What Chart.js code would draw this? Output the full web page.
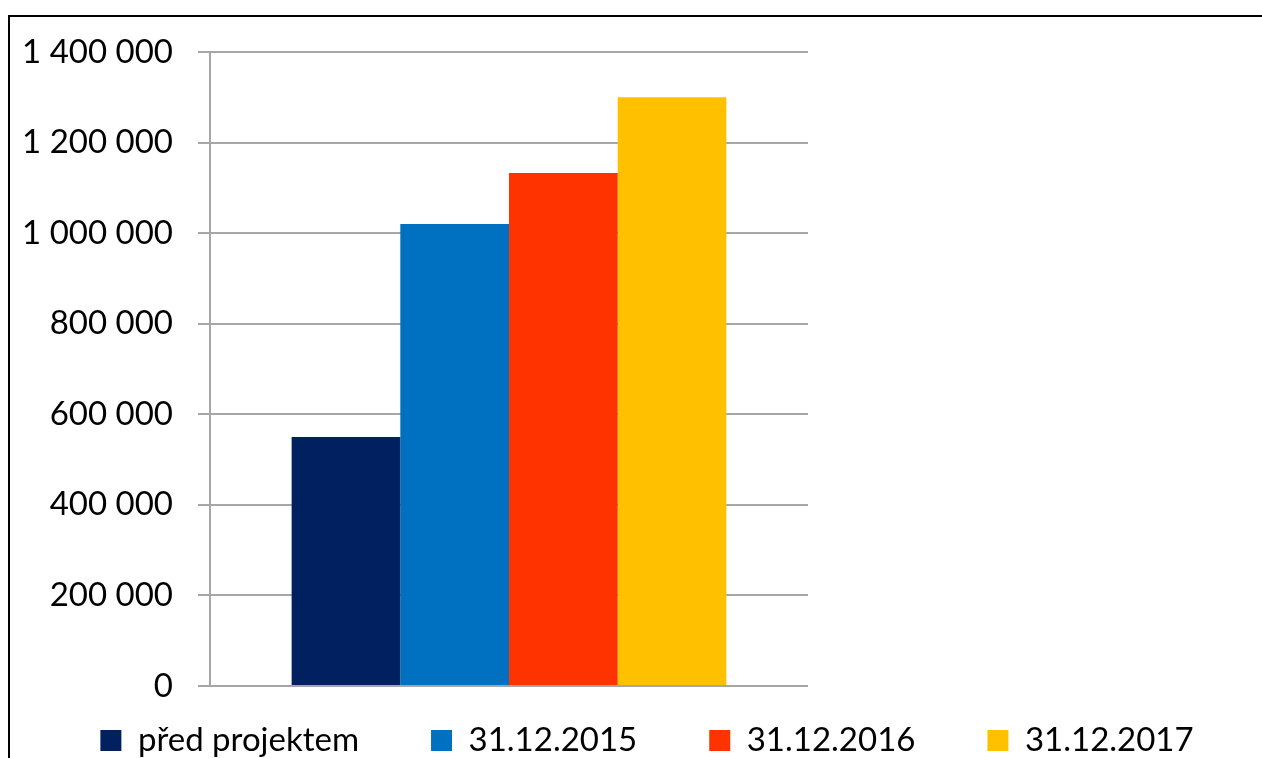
<!DOCTYPE html>
<html>
<head>
<meta charset="utf-8">
<script src="https://cdn.jsdelivr.net/npm/chart.js@4/dist/chart.umd.min.js"></script>
<style>
    html, body { margin: 0; padding: 0; background: #fff; overflow: hidden; }
    #wrap { position: relative; width: 1262px; height: 758px; overflow: hidden; }
    #frame { position: absolute; left: 8px; top: 15px; width: 1400px; height: 900px;
             border-top: 2px solid #000; border-left: 2px solid #000; pointer-events: none; }
    canvas { position: absolute; left: 0; top: 0; }
</style>
</head>
<body>
<div id="wrap">
    <canvas id="chart" width="1262" height="801"></canvas>
    <div id="frame"></div>
</div>
<script>
// data
const categories = [''];
const seriesLabels = ['před projektem', '31.12.2015', '31.12.2016', '31.12.2017'];
const seriesValues = [550000, 1020000, 1133000, 1300000];
const seriesColors = ['#002060', '#0070C0', '#FF3300', '#FFC000'];
const yMax = 1400000;
const yStep = 200000;

Chart.defaults.font.family = 'Lato, Calibri, Carlito, sans-serif';
Chart.defaults.color = '#000';

let datasets = seriesLabels.map(function (label, i) {
    return {
        label: label,
        data: [seriesValues[i]],
        backgroundColor: seriesColors[i],
        borderWidth: 0,
        barPercentage: 1,
        categoryPercentage: 0.727
    };
});

// 1 400 000 style
function formatNumber(v) {
    return String(v).replace(/\B(?=(\d{3})+(?!\d))/g, ' ');
}

// legend sits closer to the plot than its item gap allows
const legendLift = {
    id: 'legendLift',
    afterLayout(chart) {
        const lg = chart.legend;
        if (!lg) return;
        lg.top -= 34;
        lg.bottom -= 34;
    }
};

let chart = new Chart(document.getElementById('chart'), {
    type: 'bar',
    data: { labels: categories, datasets: datasets },
    plugins: [legendLift],
    options: {
        responsive: false,
        animation: false,
        layout: { padding: { top: 52, left: 16, right: -16, bottom: 0 } },
        plugins: {
            legend: {
                position: 'bottom',
                labels: {
                    boxWidth: 21,
                    boxHeight: 21,
                    padding: 72,
                    font: { size: 33 }
                }
            },
            tooltip: { enabled: false }
        },
        scales: {
            x: { display: false },
            y: {
                min: 0,
                max: yMax,
                ticks: {
                    stepSize: yStep,
                    padding: 25,
                    font: { size: 33 },
                    callback: function (v) { return formatNumber(v); }
                },
                grid: { color: '#a6a6a6', lineWidth: 2, tickLength: 12 },
                border: { color: '#a6a6a6', width: 2 },
                afterFit: function (s) { s.width = 194; }
            },
            yRight: {
                position: 'right',
                display: true,
                ticks: { display: false },
                grid: { display: false },
                border: { display: false },
                afterFit: function (s) { s.width = 470; }
            }
        }
    }
});
</script>
</body>
</html>
